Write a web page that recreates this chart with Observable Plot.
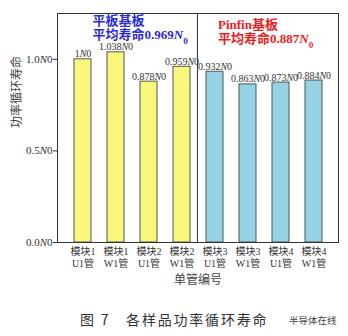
<!DOCTYPE html>
<html>
<head>
<meta charset="utf-8">
<script src="https://cdn.jsdelivr.net/npm/d3@7"></script>
<script src="https://cdn.jsdelivr.net/npm/@observablehq/plot@0.6"></script>
<style>
  html, body { margin: 0; padding: 0; background: #fff; }
  #wrap { position: relative; width: 348px; height: 336px; overflow: hidden; }
  #caption { position: absolute; left: 80px; top: 309px; font-family: "Noto Sans CJK SC", sans-serif; font-size: 14px; letter-spacing: 1.8px; color: #333; white-space: pre; }
  #mark { position: absolute; left: 289px; top: 313px; font-family: "Noto Sans CJK SC", sans-serif; font-size: 9.5px; color: #444; white-space: pre; }
</style>
</head>
<body>
<div id="wrap">
  <div id="chart"></div>
  <div id="caption">图 7　各样品功率循环寿命</div>
  <div id="mark">半导体在线</div>
</div>
<script>
const categories = ["模块1\nU1管", "模块1\nW1管", "模块2\nU1管", "模块2\nW1管", "模块3\nU1管", "模块3\nW1管", "模块4\nU1管", "模块4\nW1管"];
const lifeValues = [1, 1.038, 0.878, 0.959, 0.932, 0.863, 0.873, 0.884];
const substrates = ["平板", "平板", "平板", "平板", "Pinfin", "Pinfin", "Pinfin", "Pinfin"];
const yTicks = [0, 0.5, 1.0];
const groupNames = ["平板", "Pinfin"];
const groupColors = ["#f9f77c", "#94d3e4"];
const groupTitles = ["平板基板\n平均寿命0.969N₀", "Pinfin基板\n平均寿命0.887N₀"];
const groupFirstCat = [categories[0], categories[4]];
const groupTextColors = ["#2b2bd9", "#ee1c1c"];

const data = categories.map((c, i) => ({cat: c, v: lifeValues[i], g: substrates[i]}));
const notes = groupNames.map((g, i) => ({cat: groupFirstCat[i], t: groupTitles[i], col: groupTextColors[i]}));

const W = 348, H = 300, mL = 57, mR = 10, mT = 13, mB = 58;
const step = (W - mL - mR) / categories.length;
const serif = "'Liberation Serif', 'Noto Sans CJK SC', serif";

const chart = Plot.plot({
  width: W, height: H,
  marginLeft: mL, marginRight: mR, marginTop: mT, marginBottom: mB,
  style: {fontFamily: serif, color: "#333", background: "#fff"},
  x: {domain: categories, padding: 0.5},
  y: {domain: [0, 1.25]},
  color: {domain: groupNames, range: groupColors},
  marks: [
    Plot.barY(data, {x: "cat", y: "v", fill: "g", stroke: "#555", strokeWidth: 1}),
    Plot.frame({stroke: "#333", strokeWidth: 1}),
    Plot.ruleX([categories[4]], {dx: -step / 2, stroke: "#333", strokeWidth: 1}),
    Plot.axisY({ticks: yTicks, tickFormat: d => d.toFixed(1) + "N0", tickSize: 4, tickPadding: 1, fontSize: 11, label: null, stroke: "#333"}),
    Plot.axisX({tickSize: 0, tickPadding: 4, fontSize: 10, lineHeight: 1.2, label: null}),
    Plot.text(data, {x: "cat", y: "v", text: d => (d.v === 1 ? "1" : d.v.toFixed(3)) + "N0", lineAnchor: "bottom", dy: -2, fontSize: 10, fill: "#333", letterSpacing: -0.6}),
    Plot.text(notes.slice(0, 1), {x: "cat", text: "t", frameAnchor: "top", lineAnchor: "top", textAnchor: "start", dx: 9.5, dy: 1.5, fontSize: 13, fontWeight: "bold", lineHeight: 1.08, fill: "col"}),
    Plot.text(notes.slice(1), {x: "cat", text: "t", frameAnchor: "top", lineAnchor: "top", textAnchor: "start", dx: 3, dy: 5.5, fontSize: 13, fontWeight: "bold", lineHeight: 1.08, fill: "col"}),
    Plot.text(["单管编号"], {frameAnchor: "bottom", dy: 41, fontSize: 12, fill: "#444", fontFamily: "'Noto Sans CJK SC', sans-serif"}),
    Plot.text(["功率循环寿命"], {frameAnchor: "left", dx: -40, rotate: -90, fontSize: 12, fill: "#444", fontFamily: "'Noto Sans CJK SC', sans-serif"})
  ]
});

function styleN(root) {
  const walker = document.createTreeWalker(root, NodeFilter.SHOW_TEXT);
  const nodes = [];
  while (walker.nextNode()) nodes.push(walker.currentNode);
  for (const n of nodes) {
    const p = n.parentNode;
    if (!p || !["text", "tspan"].includes(p.nodeName)) continue;
    const s = n.nodeValue;
    if (!/[N₀]/.test(s)) continue;
    const frag = document.createDocumentFragment();
    for (const part of s.split(/(N|₀)/)) {
      if (!part) continue;
      if (part === "N") {
        const t = document.createElementNS("http://www.w3.org/2000/svg", "tspan");
        t.setAttribute("font-style", "italic");
        t.textContent = "N";
        frag.appendChild(t);
      } else if (part === "₀") {
        const t = document.createElementNS("http://www.w3.org/2000/svg", "tspan");
        t.setAttribute("baseline-shift", "sub");
        t.setAttribute("font-size", "70%");
        t.textContent = "0";
        frag.appendChild(t);
      } else {
        frag.appendChild(document.createTextNode(part));
      }
    }
    p.replaceChild(frag, n);
  }
}
styleN(chart);
document.getElementById("chart").appendChild(chart);
</script>
</body>
</html>
